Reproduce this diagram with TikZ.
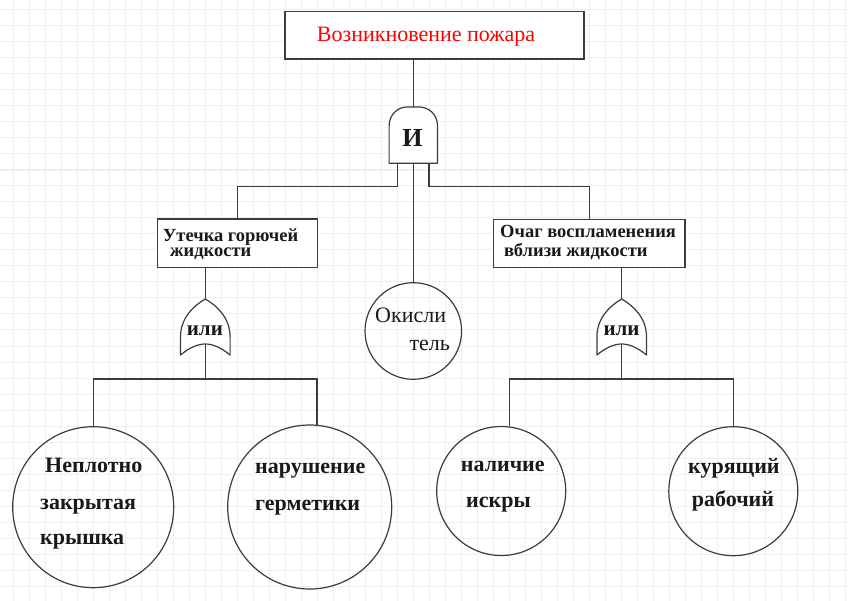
\documentclass[tikz,border=0pt]{standalone}
\usepackage{fontspec}
\setmainfont{Liberation Serif}
\usetikzlibrary{calc}
\definecolor{gridc}{RGB}{239,239,239}
\definecolor{guidec}{RGB}{247,236,222}
\definecolor{linec}{RGB}{60,60,60}
\definecolor{txtc}{RGB}{25,25,25}
\tikzset{
  gridline/.style={draw=gridc, line width=1pt},
  conn/.style={draw=linec, line width=1.2pt},
  boxshape/.style={rectangle, draw=linec, fill=white, line width=1.2pt, inner sep=0pt},
  circshape/.style={circle, draw=linec, line width=1.2pt, inner sep=0pt},
  gateshape/.style={draw=linec, fill=white, line width=1.2pt, line join=round},
  lbl/.style={anchor=base west, inner sep=0pt, text=txtc, font=\bfseries\fontsize{22}{26}\selectfont},
  boxlbl/.style={anchor=base west, inner sep=0pt, text=txtc},
  reglbl/.style={anchor=base west, inner sep=0pt, text=txtc, font=\fontsize{22}{26}\selectfont},
  orgate/.pic={
    \draw[gateshape] (0,0) .. controls (-12,7) and (-24.8,19) .. (-24.8,38)
      -- (-24.8,56) .. controls (-15,48) and (-7,45) .. (0,45)
      .. controls (7,45) and (15,48) .. (24.8,56) -- (24.8,38)
      .. controls (24.8,19) and (12,7) .. (0,0) -- cycle;
    \coordinate (-top) at (0,0);
    \coordinate (-bot) at (0,45);
  },
  andgate/.pic={
    \draw[gateshape] (-24.2,56.3) -- (-24.2,19) .. controls (-24.2,7) and (-15,0) .. (-6,0)
      -- (6,0) .. controls (15,0) and (24.2,7) .. (24.2,19) -- (24.2,56.3) -- cycle;
    \coordinate (-top) at (0,0);
    \coordinate (-l) at (-16,56.3);
    \coordinate (-m) at (0,56.3);
    \coordinate (-r) at (15.7,56.3);
  }
}
\begin{document}
\begin{tikzpicture}[x=1pt,y=-1pt]
\useasboundingbox (0,0) rectangle (848,601);
\fill[white] (0,0) rectangle (848,601);
% background grid
\foreach \i in {0,...,52} \draw[gridline] ({13.3+16*\i},0) -- ({13.3+16*\i},601);
\foreach \j in {0,...,37} \draw[gridline] (0,{10+16*\j}) -- (848,{10+16*\j});
\draw[draw=guidec, line width=1pt] (477,0) -- (477,601);
\draw[draw=guidec, line width=1pt] (0,170.5) -- (848,170.5);

% boxes
\node[boxshape, minimum width=299pt, minimum height=47.3pt] (top) at (434.5,35.4) {};
\node[boxshape, minimum width=160pt, minimum height=48.3pt] (b1) at (237.3,243.2) {};
\node[boxshape, minimum width=191.7pt, minimum height=48pt] (b2) at (589.2,243.3) {};

% circles
\node[circshape, minimum size=161pt] (c1) at (93.2,507.2) {};
\node[circshape, minimum size=164pt] (c2) at (309.7,507) {};
\node[circshape, minimum size=129pt] (c3) at (501.2,491) {};
\node[circshape, minimum size=129pt] (c4) at (733.3,491.2) {};
\node[circshape, minimum size=96.6pt] (ox) at (413.3,331) {};

% gates
\pic (and) at (413.3,107) {andgate};
\pic (or1) at (205.3,299) {orgate};
\pic (or2) at (621.7,299) {orgate};

% connectors
\draw[conn] (and-top) -- (and-top |- top.south);
\draw[conn] (and-l) -- ++(0,23.4) -| (b1.north);
\draw[conn] (and-m) -- (ox.north);
\draw[conn] (and-r) -- ++(0,23.4) -| (b2.north);
\draw[conn] (or1-top) -- (or1-top |- b1.south);
\draw[conn] (or2-top) -- (or2-top |- b2.south);
\draw[conn] (or1-bot) -- ++(0,35) coordinate (h1);
\draw[conn] (h1) -| (c1.north);
\draw[conn] (h1) -| (c2.85);
\draw[conn] (or2-bot) -- ++(0,35) coordinate (h2);
\draw[conn] (h2) -| (c3.83);
\draw[conn] (h2) -| (c4.north);

% texts
\node[reglbl, text=red] (ttop) at (316.7,42) {Возникновение пожара};
\node[anchor=base, inner sep=0pt, text=txtc, font=\bfseries\fontsize{26}{30}\selectfont] (tand) at (412.5,146.7) {И};
\node[boxlbl] (tb1) at (162.7,241.7) {\bfseries\fontsize{18.5}{15.3}\selectfont
  \begin{tabular}[t]{@{}l@{}}Утечка горючей\\\hspace*{7.3pt}жидкости\end{tabular}};
\node[boxlbl] (tb2) at (500,237.3) {\bfseries\fontsize{18.5}{18.7}\selectfont
  \begin{tabular}[t]{@{}l@{}}Очаг воспламенения\\\hspace*{4pt}вблизи жидкости\end{tabular}};
\node[lbl, font=\bfseries\fontsize{21}{24}\selectfont] (tor1) at (186.7,335) {или};
\node[lbl, font=\bfseries\fontsize{21}{24}\selectfont] (tor2) at (603.3,335.5) {или};
\node[reglbl] (tox1) at (375,322.3) {Окисли};
\node[reglbl] (tox2) at (409.3,350) {тель};
\node[lbl] (tc1a) at (45,472.7) {Неплотно};
\node[lbl] (tc1b) at (40,509.3) {закрытая};
\node[lbl] (tc1c) at (40,544) {крышка};
\node[lbl] (tc2a) at (255,473) {нарушение};
\node[lbl] (tc2b) at (255,510) {герметики};
\node[lbl] (tc3a) at (460.7,471.7) {наличие};
\node[lbl] (tc3b) at (466,507.3) {искры};
\node[lbl] (tc4a) at (688,473) {курящий};
\node[lbl] (tc4b) at (691.7,506.7) {рабочий};
\end{tikzpicture}
\end{document}
